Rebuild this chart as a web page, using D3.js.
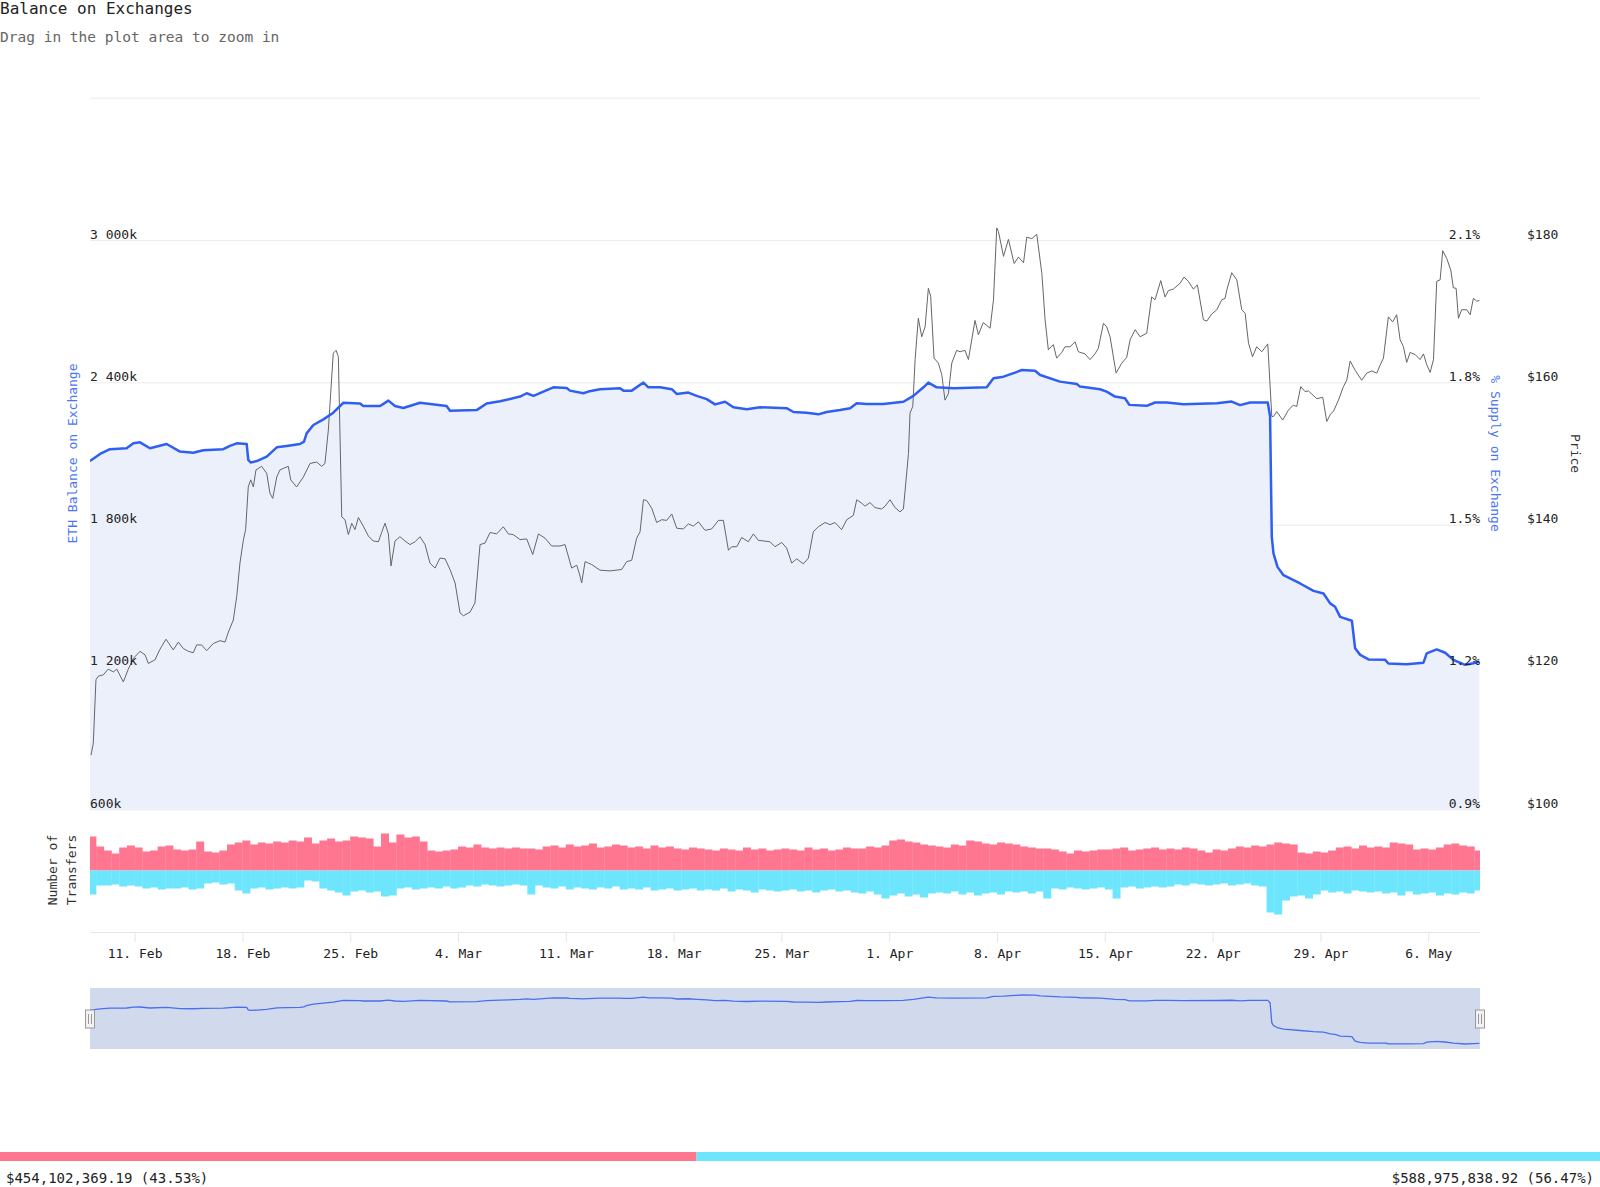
<!DOCTYPE html>
<html>
<head>
<meta charset="utf-8">
<title>Balance on Exchanges | D3</title>
<script src="https://cdn.jsdelivr.net/npm/d3@7"></script>
<style>
body { margin: 0; background: #fff; }
svg text { font-family: "DejaVu Sans Mono", monospace; }
</style>
</head>
<body>
<script>
// ---- data ----
// days counted from 8 Feb 2019 00:00 UTC
var balanceDays = [0.1,0.76,1.4,2.48,2.92,3.35,4.0,5.08,5.95,6.81,7.46,8.76,9.19,9.63,10.28,10.38,10.54,10.93,11.58,12.23,12.87,13.74,14.0,14.17,14.61,15.26,15.9,16.56,17.64,17.85,18.94,19.48,19.91,20.45,21.53,23.26,23.48,25.21,25.86,26.73,28.03,28.46,28.9,30.19,31.06,31.27,32.14,32.46,33.22,34.52,34.74,35.28,36.04,36.36,37.12,37.88,38.2,38.96,39.5,40.15,40.69,41.34,41.88,42.75,43.61,45.34,45.78,46.64,47.4,47.94,48.81,49.46,49.89,50.54,51.62,52.92,53.57,54.22,54.54,55.08,56.17,58.33,58.77,59.42,60.17,60.61,61.47,61.8,63.09,64.18,64.39,65.69,66.12,66.66,67.31,67.59,68.72,69.26,70.02,71.1,73.27,74.24,74.78,75.43,76.58,76.73,76.84,76.95,77.21,77.6,78.68,79.55,80.2,80.63,80.95,81.28,82.04,82.25,82.58,83.12,84.2,84.41,85.6,86.69,86.9,87.55,88.1,88.63,89.39,89.93,90.32];
// ETH balance on exchanges, thousands
var balanceVals = [2068,2098,2118,2122,2143,2147,2122,2140,2108,2103,2114,2118,2132,2143,2140,2073,2062,2068,2087,2126,2132,2140,2150,2185,2220,2244,2272,2314,2311,2300,2300,2323,2300,2292,2314,2300,2280,2283,2311,2320,2340,2354,2343,2379,2376,2365,2354,2361,2371,2375,2365,2365,2399,2379,2379,2371,2351,2357,2343,2329,2307,2318,2295,2287,2295,2291,2275,2272,2265,2275,2283,2291,2312,2309,2309,2318,2343,2379,2399,2379,2375,2379,2417,2424,2441,2452,2449,2431,2403,2393,2382,2371,2361,2340,2333,2305,2301,2315,2315,2308,2312,2319,2304,2315,2315,2256,1749,1679,1622,1587,1552,1521,1510,1468,1454,1411,1395,1279,1251,1232,1230,1215,1212,1218,1257,1274,1260,1230,1209,1216,1223];

var priceDays = [0.17,0.32,0.49,0.64,0.97,1.29,1.62,1.84,2.27,2.59,2.92,3.35,3.68,3.89,4.32,4.65,5.04,5.51,5.84,6.16,6.49,6.81,7.03,7.35,7.68,8.11,8.55,8.87,9.09,9.41,9.63,9.84,10.06,10.21,10.38,10.54,10.71,10.88,11.25,11.58,11.79,11.97,12.23,12.44,12.98,13.14,13.52,13.96,14.39,14.82,15.15,15.36,15.58,15.9,16.08,16.23,16.45,16.66,16.88,17.1,17.31,17.53,17.85,18.18,18.5,18.83,19.04,19.26,19.48,19.65,19.91,20.23,20.56,20.88,21.21,21.53,21.86,22.18,22.51,22.83,23.16,23.48,23.81,24.13,24.35,24.78,25.1,25.43,25.75,26.08,26.51,26.94,27.27,27.59,28.03,28.46,28.85,29.22,29.65,30.08,30.62,30.95,31.38,31.71,31.92,32.03,32.25,32.46,32.68,33.22,33.87,34.63,34.95,35.28,35.6,35.82,36.04,36.25,36.58,36.9,37.23,37.55,37.88,38.2,38.63,38.96,39.28,39.61,40.04,40.47,40.91,41.23,41.56,41.77,42.1,42.42,42.85,43.18,43.5,44.26,44.58,45.02,45.34,45.67,45.99,46.42,46.75,47.07,47.4,47.83,48.16,48.48,48.91,49.24,49.67,49.89,50.22,50.43,50.75,51.08,51.51,51.73,52.05,52.38,52.7,52.92,53.25,53.35,53.53,53.68,53.89,54.11,54.33,54.54,54.69,54.91,55.19,55.41,55.62,55.84,56.06,56.38,56.6,56.92,57.14,57.57,57.79,58.11,58.55,58.77,58.98,59.09,59.42,59.74,60.11,60.39,60.72,60.93,61.26,61.58,61.91,62.12,62.33,62.66,62.87,63.2,63.42,63.74,64.07,64.28,64.71,65.04,65.36,65.58,65.91,66.12,66.34,66.73,67.1,67.42,67.64,67.97,68.29,68.72,69.04,69.26,69.63,69.91,70.13,70.45,70.88,71.14,71.42,71.75,72.01,72.4,72.62,72.94,73.27,73.59,73.81,73.92,74.24,74.57,74.89,75.11,75.33,75.59,75.86,76.19,76.58,76.84,76.95,77.16,77.55,77.92,78.24,78.46,78.72,79.0,79.22,79.76,80.15,80.41,80.67,80.84,81.17,81.49,81.71,81.93,82.25,82.68,83.01,83.33,83.66,83.87,84.09,84.41,84.69,84.95,85.17,85.39,85.6,85.82,86.15,86.47,86.69,86.9,87.12,87.34,87.55,87.77,87.94,88.2,88.46,88.63,88.81,88.96,89.17,89.5,89.72,89.93,90.15,90.32];
// ETH price, USD
var priceVals = [107.6,109.3,118.2,118.7,118.9,119.7,119.3,119.7,117.9,119.7,121.2,122.2,121.7,120.5,121.0,122.5,123.9,122.4,123.5,122.6,122.2,122.0,123.1,123.1,122.3,123.3,123.7,123.5,124.9,126.6,129.9,134.6,137.8,139.3,145.3,146.3,145.3,147.7,148.2,147.2,144.4,143.7,146.7,147.7,148.2,146.3,145.3,146.7,148.6,148.8,148.2,148.6,153.3,164.1,164.5,163.6,141.1,140.7,138.6,140.2,139.3,141.0,139.8,138.4,137.7,137.6,138.9,140.2,138.7,134.2,137.7,138.3,137.7,137.2,137.6,138.3,137.2,134.6,133.9,135.3,135.2,133.7,131.8,127.6,127.2,127.7,129.0,137.2,137.4,138.9,138.7,139.7,138.7,138.6,137.9,138.0,135.8,138.7,138.1,137.0,137.0,137.2,133.9,134.3,132.8,131.8,134.8,134.6,134.4,133.6,133.5,133.7,134.8,135.0,138.1,139.0,143.5,143.4,142.3,140.3,140.7,140.6,141.5,139.5,139.4,140.1,139.8,140.4,139.2,139.4,140.6,140.6,136.4,136.9,136.9,138.2,137.6,138.7,137.8,137.6,136.9,137.5,136.7,134.6,135.2,134.5,135.3,139.0,139.7,140.3,140.0,140.3,139.3,140.7,141.3,143.5,143.0,142.6,143.1,142.4,142.2,142.6,143.5,142.4,141.8,142.2,150.0,155.7,156.6,163.2,169.0,166.4,167.8,173.2,172.1,163.4,162.7,161.1,157.5,158.4,162.7,164.5,164.3,164.5,163.2,168.7,166.7,168.4,167.6,171.6,181.7,181.2,177.7,180.1,176.7,177.6,176.8,180.4,180.2,180.8,175.3,168.8,164.6,165.3,163.4,164.2,165.0,165.0,165.7,164.3,164.0,163.2,164.0,164.8,168.3,167.8,166.4,161.3,162.7,163.5,166.0,167.4,166.4,166.9,172.0,171.6,174.3,172.0,172.9,173.1,173.9,174.8,174.2,173.1,173.7,168.8,168.6,169.6,170.2,171.6,171.8,173.0,175.4,174.4,170.2,169.7,165.5,163.6,165.0,164.3,165.4,155.2,155.2,155.9,154.7,156.1,156.8,156.6,159.4,158.7,158.8,157.7,157.9,154.5,155.6,155.9,157.5,159.4,160.3,163.0,161.7,160.3,161.3,161.6,161.3,162.4,163.4,169.2,168.5,169.5,166.0,165.0,162.8,164.2,163.9,163.2,164.0,162.5,161.4,163.2,174.2,174.4,178.5,177.4,175.8,173.3,173.2,169.0,170.2,170.2,169.5,171.8,171.4,171.5];

// number of transfers per 12 hours, starting 8 Feb 00:00 (in to / out of exchanges)
var transfersIn = [340,240,200,170,230,250,230,190,200,240,250,210,200,210,290,190,180,200,260,280,300,260,280,270,290,280,300,290,330,270,300,320,290,300,340,330,320,240,370,280,360,330,340,290,200,190,200,210,240,230,260,230,220,230,220,230,220,220,210,
  240,250,230,260,240,250,270,230,240,260,250,
  230,240,220,250,230,240,220,210,230,220,
  210,200,220,210,200,230,210,220,200,210,
  220,210,200,230,210,220,200,210,230,220,
  220,240,230,250,300,310,290,280,260,250,
  240,230,260,250,300,290,270,260,280,270,
  260,240,230,220,220,210,190,170,200,190,200,210,
  210,220,230,200,210,220,230,210,220,210,230,220,
  200,180,210,200,220,240,230,250,240,260,280,270,260,
  180,170,190,180,200,230,240,220,250,230,240,230,
  280,270,260,210,220,210,230,260,270,250,240,200];
var transfersOut = [240,150,150,140,160,150,160,180,170,190,180,180,170,190,180,130,120,140,130,200,230,180,170,190,180,170,180,170,100,110,180,200,220,250,210,200,220,210,260,250,
  180,170,190,180,170,180,160,180,170,150,160,140,150,160,150,140,150,240,150,
  170,180,160,190,170,180,190,170,180,160,190,
  180,190,170,200,190,180,200,190,180,200,
  190,200,180,210,190,200,220,190,200,210,
  200,190,210,200,220,200,190,210,200,220,
  230,210,240,280,250,230,260,240,270,230,
  220,230,210,240,220,250,230,220,240,210,
  220,210,230,210,280,180,190,170,180,190,180,170,190,280,
  170,160,180,170,160,170,160,
  140,150,130,140,150,140,130,150,140,130,150,160,
  420,440,300,260,250,280,240,
  200,220,210,230,200,210,220,210,
  230,220,250,210,240,230,220,250,230,240,220,230,200];

var balanceTicks = [600, 1200, 1800, 2400, 3000, 3600];
var pctTicks = [0.9, 1.2, 1.5, 1.8, 2.1, 2.4];
var priceTicks = [100, 120, 140, 160, 180, 200];

var inflowUsd = 454102369.19;
var outflowUsd = 588975838.92;

// ---- layout ----
var width = 1600, height = 1187;
var left = 90, right = 1480;
var plotW = right - left;
var mainTop = 97.7, mainBottom = 809.3;
var trTop = 809, trBottom = 932;
var navTop = 988, navBottom = 1049;

var t0 = Date.UTC(2019, 1, 8);
function dayToDate(d) { return new Date(t0 + d * 864e5); }

var balance = balanceDays.map(function(d, i) { return { t: dayToDate(d), v: balanceVals[i] }; });
var price = priceDays.map(function(d, i) { return { t: dayToDate(d), v: priceVals[i] }; });

var svg = d3.select("body").append("svg")
  .attr("width", width)
  .attr("height", height);

var x = d3.scaleUtc()
  .domain([dayToDate(0.104), dayToDate(90.36)])
  .range([left, right]);
var yBal = d3.scaleLinear().domain([600, 3600]).range([mainBottom, mainTop]);
var yPct = d3.scaleLinear().domain([0.9, 2.4]).range([mainBottom, mainTop]);
var yPrice = d3.scaleLinear().domain([100, 200]).range([mainBottom, mainTop]);
var yTr = d3.scaleLinear().domain([-615, 615]).range([trBottom, trTop]);

var fr = d3.formatLocale({ decimal: ".", thousands: " ", grouping: [3], currency: ["$", ""] });
var fmtK = fr.format(",");

svg.append("clipPath").attr("id", "plot")
  .append("rect").attr("x", left).attr("y", 0).attr("width", plotW).attr("height", height);

// title
svg.append("text").attr("x", 0).attr("y", 14)
  .attr("font-size", 16).attr("fill", "#222")
  .text("Balance on Exchanges");
svg.append("text").attr("x", 0).attr("y", 42)
  .attr("font-size", 14.5).attr("fill", "#666")
  .text("Drag in the plot area to zoom in");

// gridlines
var grid = svg.append("g").attr("transform", "translate(" + left + ",0)")
  .call(d3.axisRight(yBal).tickValues(balanceTicks).tickSize(plotW).tickFormat(""));
grid.select(".domain").remove();
grid.selectAll("line").attr("stroke", "#ebebeb");

// balance area + line
var g = svg.append("g").attr("clip-path", "url(#plot)");
g.append("path")
  .datum(balance)
  .attr("fill", "#ecf0fb")
  .attr("d", d3.area().x(function(d) { return x(d.t); }).y0(yBal(600)).y1(function(d) { return yBal(d.v); }));

g.append("path")
  .datum(price)
  .attr("fill", "none")
  .attr("stroke", "#666")
  .attr("stroke-width", 1)
  .attr("d", d3.line().x(function(d) { return x(d.t); }).y(function(d) { return yPrice(d.v); }));

g.append("path")
  .datum(balance)
  .attr("fill", "none")
  .attr("stroke", "#2f5ff2")
  .attr("stroke-width", 2.5)
  .attr("stroke-linejoin", "round")
  .attr("d", d3.line().x(function(d) { return x(d.t); }).y(function(d) { return yBal(d.v); }));

// transfers (12h bars)
var step = 12 * 3600e3;
g.selectAll("rect.in")
  .data(transfersIn)
  .enter()
  .append("rect")
  .attr("class", "in")
  .attr("x", function(d, i) { return x(new Date(t0 + i * step)); })
  .attr("width", function(d, i) { return x(new Date(t0 + (i + 1) * step)) - x(new Date(t0 + i * step)) + 0.3; })
  .attr("y", function(d) { return yTr(d); })
  .attr("height", function(d) { return yTr(0) - yTr(d); })
  .attr("fill", "#ff7691");
g.selectAll("rect.out")
  .data(transfersOut)
  .enter()
  .append("rect")
  .attr("class", "out")
  .attr("x", function(d, i) { return x(new Date(t0 + i * step)); })
  .attr("width", function(d, i) { return x(new Date(t0 + (i + 1) * step)) - x(new Date(t0 + i * step)) + 0.3; })
  .attr("y", yTr(0))
  .attr("height", function(d) { return yTr(-d) - yTr(0); })
  .attr("fill", "#6de5fd");

// y labels
function styleLabels(sel) {
  sel.select(".domain").remove();
  sel.selectAll("line").remove();
  sel.selectAll("text").attr("dy", -2).attr("font-size", 13).attr("fill", "#222")
    .attr("font-family", "DejaVu Sans Mono, monospace");
}
svg.append("g").attr("transform", "translate(" + left + ",0)")
  .call(d3.axisRight(yBal).tickValues(balanceTicks.slice(0, -1)).tickSize(0).tickPadding(0)
    .tickFormat(function(v) { return fmtK(v) + "k"; }))
  .call(styleLabels);
svg.append("g").attr("transform", "translate(" + right + ",0)")
  .call(d3.axisLeft(yPct).tickValues(pctTicks.slice(0, -1)).tickSize(0).tickPadding(0)
    .tickFormat(function(v) { return d3.format(".1f")(v) + "%"; }))
  .call(styleLabels);
svg.append("g").attr("transform", "translate(1527,0)")
  .call(d3.axisRight(yPrice).tickValues(priceTicks.slice(0, -1)).tickSize(0).tickPadding(0)
    .tickFormat(function(v) { return "$" + v; }))
  .call(styleLabels);

// axis titles
var midY = (mainTop + mainBottom) / 2;
svg.append("text")
  .attr("transform", "translate(77," + midY + ") rotate(-90)")
  .attr("text-anchor", "middle").attr("font-size", 13).attr("fill", "#4a74f5")
  .text("ETH Balance on Exchange");
svg.append("text")
  .attr("transform", "translate(1491," + midY + ") rotate(90)")
  .attr("text-anchor", "middle").attr("font-size", 13).attr("fill", "#4a74f5")
  .text("% Supply on Exchange");
svg.append("text")
  .attr("transform", "translate(1571," + midY + ") rotate(90)")
  .attr("text-anchor", "middle").attr("font-size", 13).attr("fill", "#333")
  .text("Price");
var nt = svg.append("text")
  .attr("transform", "translate(57,870) rotate(-90)")
  .attr("text-anchor", "middle").attr("font-size", 13).attr("fill", "#333");
nt.append("tspan").attr("x", 0).attr("dy", 0).text("Number of");
nt.append("tspan").attr("x", 0).attr("dy", 19).text("Transfers");

// x axis
var xa = svg.append("g").attr("transform", "translate(0," + trBottom + ")")
  .call(d3.axisBottom(x).ticks(d3.utcMonday.every(1)).tickSize(10).tickSizeOuter(0).tickPadding(7)
    .tickFormat(d3.utcFormat("%-d. %b")));
xa.select(".domain").attr("stroke", "#e6e6e6");
xa.selectAll("line").attr("stroke", "#e6e6e6");
xa.selectAll("text").attr("font-size", 13).attr("fill", "#222")
  .attr("font-family", "DejaVu Sans Mono, monospace");

// navigator
var yNav = d3.scaleLinear().domain(d3.extent(balanceVals)).range([1044, 995]);
svg.append("rect")
  .attr("x", left).attr("y", navTop).attr("width", plotW).attr("height", navBottom - navTop)
  .attr("fill", "#d1daed");
svg.append("path")
  .datum(balance)
  .attr("fill", "none")
  .attr("stroke", "#4a6ef0")
  .attr("stroke-width", 1.3)
  .attr("d", d3.line().x(function(d) { return x(d.t); }).y(function(d) { return yNav(d.v); }));
[left, right].forEach(function(hx) {
  var h = svg.append("g").attr("transform", "translate(" + hx + ",1010)");
  h.append("rect").attr("x", -4.5).attr("y", 0).attr("width", 9).attr("height", 18)
    .attr("fill", "#f2f2f2").attr("stroke", "#999");
  h.append("line").attr("x1", -1.5).attr("x2", -1.5).attr("y1", 4).attr("y2", 14).attr("stroke", "#999");
  h.append("line").attr("x1", 1.5).attr("x2", 1.5).attr("y1", 4).attr("y2", 14).attr("stroke", "#999");
});

// inflow / outflow share bar
var total = inflowUsd + outflowUsd;
var xs = d3.scaleLinear().domain([0, total]).range([0, width]);
var fmtUsd = d3.format(",.2f");
var fmtPct = d3.format(".2%");
svg.append("rect").attr("x", 0).attr("y", 1152).attr("width", xs(inflowUsd)).attr("height", 9).attr("fill", "#ff7691");
svg.append("rect").attr("x", xs(inflowUsd)).attr("y", 1152).attr("width", width - xs(inflowUsd)).attr("height", 9).attr("fill", "#6de5fd");
svg.append("text").attr("x", 6).attr("y", 1183).attr("font-size", 14).attr("fill", "#222")
  .text("$" + fmtUsd(inflowUsd) + " (" + fmtPct(inflowUsd / total) + ")");
svg.append("text").attr("x", 1594).attr("y", 1183).attr("text-anchor", "end").attr("font-size", 14).attr("fill", "#222")
  .text("$" + fmtUsd(outflowUsd) + " (" + fmtPct(outflowUsd / total) + ")");
</script>
</body>
</html>
